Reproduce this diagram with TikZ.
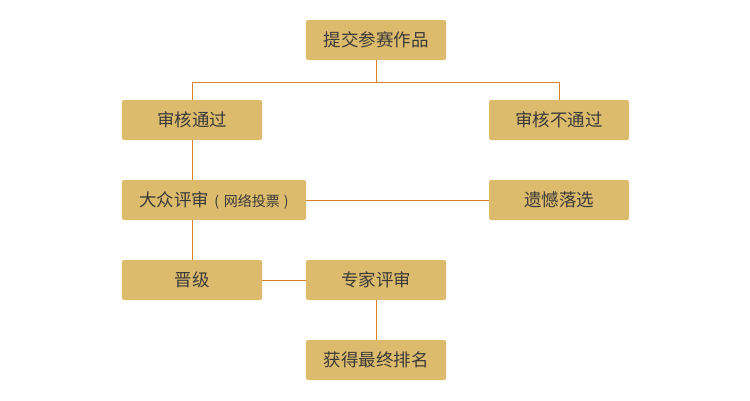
\documentclass[tikz,border=0pt]{standalone}
\usepackage{fontspec}
\setmainfont{Noto Sans CJK SC}
\begin{document}
\begin{tikzpicture}[x=1pt,y=-1pt,
  stepbox/.style={draw=none,fill=boxfill,rounded corners=2pt,minimum width=140pt,minimum height=40pt,inner sep=0pt,text=txt,font=\fontsize{17.5}{20}\selectfont},
  link/.style={draw=linec,line width=1pt}]
\definecolor{boxfill}{HTML}{DCBB6C}
\definecolor{linec}{HTML}{D9822B}
\definecolor{txt}{HTML}{3A3A3A}
\useasboundingbox (0,0) rectangle (750,400);
\node[stepbox] (submit) at (376,40) {提交参赛作品};
\node[stepbox] (pass) at (192,120) {审核通过};
\node[stepbox] (fail) at (559,120) {审核不通过};
\node[stepbox,minimum width=184pt] (public) at (214,200) {大众评审{\fontsize{14}{16}\selectfont\hspace{5pt}(\hspace{5pt}网络投票\hspace{4pt})}};
\node[stepbox] (out) at (559,200) {遗憾落选};
\node[stepbox] (adv) at (192,280) {晋级};
\node[stepbox] (expert) at (376,280) {专家评审};
\node[stepbox] (rank) at (376,360) {获得最终排名};
\coordinate (mid) at (376,82);
\draw[link] (submit.south) -- (mid);
\draw[link] (mid) -| (pass.north);
\draw[link] (mid) -| (fail.north);
\draw[link] (pass.south) -- (pass.south |- public.north);
\draw[link] (public.east) -- (out.west);
\draw[link] (pass.south |- public.south) -- (adv.north);
\draw[link] (adv.east) -- (expert.west);
\draw[link] (expert.south) -- (rank.north);
\end{tikzpicture}
\end{document}
